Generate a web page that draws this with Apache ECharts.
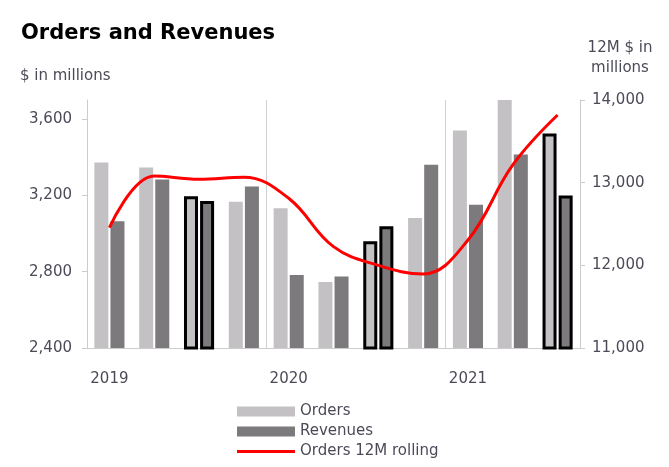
<!DOCTYPE html>
<html><head><meta charset="utf-8">
<script src="https://cdn.jsdelivr.net/npm/echarts@6/dist/echarts.min.js"></script>
<style>html,body{margin:0;padding:0;background:#fff}#c{width:669px;height:467px}</style>
</head><body><div id="c"></div>
<script>
const quarters = ['Q1 2019','Q2 2019','Q3 2019','Q4 2019','Q1 2020','Q2 2020','Q3 2020','Q4 2020','Q1 2021','Q2 2021','Q3 2021'];
const yearTicks = ['2019','','','','2020','','','','2021','',''];
const orders = [3372, 3346, 3196, 3167, 3132, 2746, 2959, 3082, 3540, 3700, 3525];
const revenues = [3065, 3283, 3170, 3246, 2783, 2775, 3038, 3361, 3151, 3414, 3200];
const rolling = [12455, 13080, 13041, 13065, 12811, 12226, 12000, 11895, 12306, 13214, 13818];
const highlighted = [2, 6, 10];
const leftTicks = [2400, 2800, 3200, 3600];
const rightTicks = [11000, 12000, 13000, 14000];

const FONT = 'DejaVu Sans';
const TXT = '#4b4b58';
const ORD = '#c4c1c4', REV = '#7c7a7c';

function barData(vals) {
  return vals.map((v, i) => highlighted.includes(i)
    ? { value: v, itemStyle: { borderColor: '#000', borderWidth: 3 } }
    : v);
}
const fmt = v => v.toLocaleString('en-US');

const chart = echarts.init(document.getElementById('c'));
chart.setOption({
  animation: false,
  textStyle: { fontFamily: FONT },
  title: [
    { text: 'Orders and Revenues', left: 16, top: 18, textStyle: { fontFamily: FONT, fontSize: 21, fontWeight: 'bold', color: '#000' } },
    { text: '$ in millions', left: 15, top: 64, textStyle: { fontFamily: FONT, fontSize: 15, fontWeight: 'normal', color: TXT } },
    { text: '12M $ in\nmillions', left: 615, top: 33, textAlign: 'center', textStyle: { fontFamily: FONT, fontSize: 15, fontWeight: 'normal', color: TXT, lineHeight: 20, align: 'center' } }
  ],
  legend: {
    orient: 'vertical', left: 232, top: 399, height: 80, itemWidth: 58, itemHeight: 10, itemGap: 5,
    textStyle: { fontFamily: FONT, fontSize: 15, color: TXT },
    data: [
      { name: 'Orders', icon: 'rect' },
      { name: 'Revenues', icon: 'rect' },
      { name: 'Orders 12M rolling', icon: 'path://M0,0L0,0M0,3.5L58,3.5L58,6.5L0,6.5ZM58,10L58,10' }
    ]
  },
  grid: { left: 87, right: 89, top: 100, bottom: 119, containLabel: false },
  xAxis: {
    type: 'category', data: quarters, boundaryGap: true,
    axisLine: { lineStyle: { color: '#cccccc', width: 1 } },
    axisTick: { show: false },
    axisLabel: { interval: 0, margin: 24, fontFamily: FONT, fontSize: 15, color: TXT, formatter: (v, i) => yearTicks[i] },
    splitLine: { show: true, interval: (i) => i === 4 || i === 8, lineStyle: { color: '#d0d0d0', width: 1 } }
  },
  yAxis: [
    {
      type: 'value', min: leftTicks[0], max: 3700, interval: leftTicks[1] - leftTicks[0], position: 'left',
      axisLine: { show: true, lineStyle: { color: '#cccccc' } },
      axisTick: { show: true, inside: false, length: 5, lineStyle: { color: '#cccccc' } },
      axisLabel: { showMaxLabel: false, margin: 15, fontFamily: FONT, fontSize: 15, color: TXT, formatter: fmt },
      splitLine: { show: false }
    },
    {
      type: 'value', min: rightTicks[0], max: rightTicks[3], interval: 1000, position: 'right',
      axisLine: { show: true, lineStyle: { color: '#cccccc' } },
      axisTick: { show: true, length: 5, lineStyle: { color: '#cccccc' } },
      axisLabel: { margin: 12, fontFamily: FONT, fontSize: 15, color: TXT, formatter: fmt },
      splitLine: { show: false }
    }
  ],
  series: [
    { name: 'Orders', type: 'bar', yAxisIndex: 0, barWidth: 14, barGap: '15%', itemStyle: { color: ORD }, data: barData(orders) },
    { name: 'Revenues', type: 'bar', yAxisIndex: 0, barWidth: 14, barGap: '15%', itemStyle: { color: REV }, data: barData(revenues) },
    { name: 'Orders 12M rolling', type: 'line', yAxisIndex: 1, smooth: 0.4, symbol: 'none', lineStyle: { color: '#ff0000', width: 3 }, itemStyle: { color: '#ff0000' }, data: rolling, z: 5 }
  ]
});
</script></body></html>
